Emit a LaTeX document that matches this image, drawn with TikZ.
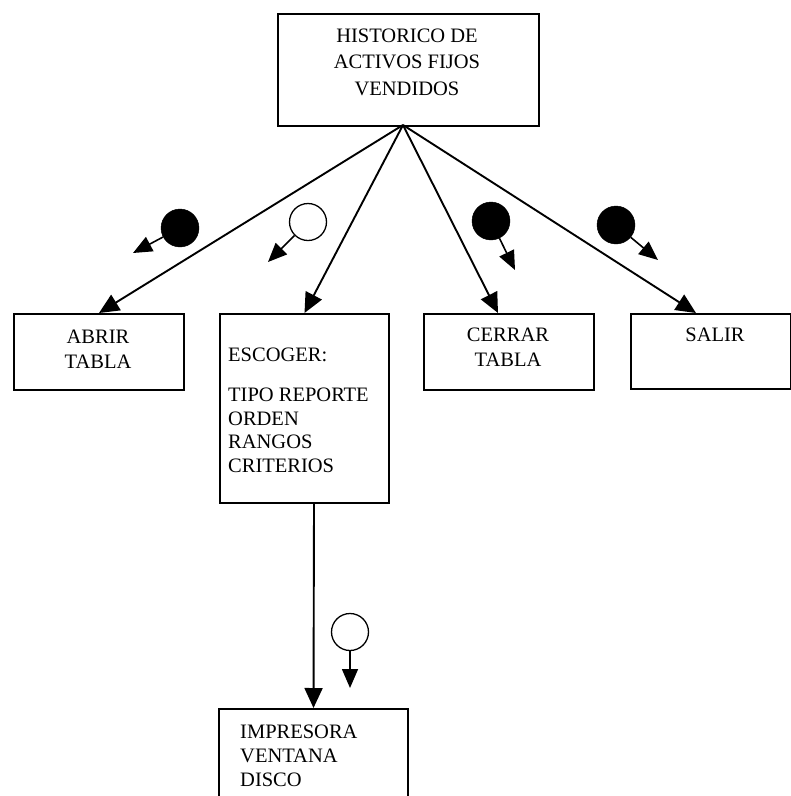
\documentclass[tikz,border=0pt]{standalone}
\usepackage{fontspec}
\setmainfont{Liberation Serif}
\usetikzlibrary{arrows.meta}
\begin{document}
\begin{tikzpicture}[x=1pt,y=-1pt,
  box/.style={draw, line width=2pt, inner sep=0pt, anchor=north west},
  txt/.style={font=\fontsize{20.5}{24}\selectfont, inner sep=0pt},
  conn/.style={line width=1.9pt, -{Triangle[length=20pt,width=18pt]}},
  flagarr/.style={line width=1.6pt, -{Triangle[length=19pt,width=16pt]}},
  fullflag/.style={circle, fill=black, draw=black, minimum size=38pt, inner sep=0pt},
  emptyflag/.style={circle, fill=white, draw=black, line width=1.3pt, minimum size=37pt, inner sep=0pt}]
\useasboundingbox (0,0) rectangle (791,796);
\clip (0,0) rectangle (791,796);
\fill[white] (0,0) rectangle (791,796);

% boxes
\node[box, minimum width=261pt, minimum height=112pt] (top) at (277,13) {};
\node[box, minimum width=170pt, minimum height=76pt] (abrir) at (13,313) {};
\node[box, minimum width=169pt, minimum height=189pt] (escoger) at (219,313) {};
\node[box, minimum width=170pt, minimum height=76pt] (cerrar) at (423,313) {};
\node[box, minimum width=160pt, minimum height=75pt] (salir) at (630,313) {};
\node[box, minimum width=189pt, minimum height=110pt] (imp) at (218,708) {};

% texts
\node[txt, align=center, anchor=north, font=\fontsize{20.5}{26.5}\selectfont] (toptxt) at (407,28.5) {HISTORICO DE\\ACTIVOS FIJOS\\VENDIDOS};
\node[txt, align=center, anchor=north, font=\fontsize{20.5}{25}\selectfont] (abrirtxt) at (98,330) {ABRIR\\TABLA};
\node[txt, align=left, anchor=north west, font=\fontsize{20.5}{23.5}\selectfont] (escogertxt) at (228,348) {ESCOGER:\\[16.5pt]TIPO REPORTE\\ORDEN\\RANGOS\\CRITERIOS};
\node[txt, align=center, anchor=north, font=\fontsize{20.5}{25}\selectfont] (cerrartxt) at (508,328) {CERRAR\\TABLA};
\node[txt, anchor=north] (salirtxt) at (715,328) {SALIR};
\node[txt, align=left, anchor=north west, font=\fontsize{20.5}{24}\selectfont] (imptxt) at (240,725) {IMPRESORA\\VENTANA\\DISCO};

% connectors
\coordinate (apex) at (403,125);
\draw[conn] (apex) -- (abrir.north);
\draw[conn] (apex) -- (escoger.north);
\draw[conn] (apex) -- ([xshift=-11pt]cerrar.north);
\draw[conn] (apex) -- ([xshift=-15pt]salir.north);
\draw[conn] ([xshift=9.5pt]escoger.south) -- (imp.north);

% flags
\node[fullflag] (f1) at (180,228) {};
\coordinate (f1t) at (133,253);
\draw[flagarr] (f1) -- (f1t);
\node[emptyflag] (f2) at (308,222) {};
\coordinate (f2t) at (268,262);
\draw[flagarr] (f2) -- (f2t);
\node[fullflag] (f3) at (491,221) {};
\coordinate (f3t) at (515,270);
\draw[flagarr] (f3) -- (f3t);
\node[fullflag] (f4) at (616,225) {};
\coordinate (f4t) at (658,260);
\draw[flagarr] (f4) -- (f4t);
\node[emptyflag] (f5) at (350,632) {};
\coordinate (f5t) at (350,688);
\draw[flagarr] (f5) -- (f5t);
\end{tikzpicture}
\end{document}
